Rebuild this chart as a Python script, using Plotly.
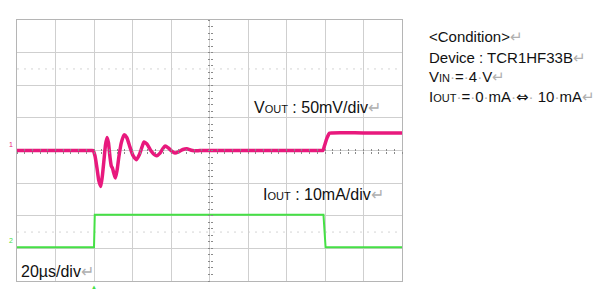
import plotly.graph_objects as go

# ---- data ----
# VOUT (ch1, 50 mV/div), time in microseconds (20 us/div)
time_v = [0, 20, 38.0, 39.5, 40.5, 41.5, 42.5, 43.5, 44.3, 45.2, 46.0, 46.8, 47.5, 48.3,
          49.0, 49.6, 50.3, 51.1, 52.0, 53.0, 54.2, 55.6, 57.0, 58.6, 60.3, 62.0,
          63.6, 65.0, 66.0, 67.5, 69.5, 71.2, 72.6, 74.3, 75.8, 77.0, 78.6, 80.4,
          82.1, 84.0, 86.2, 88.2, 90.5, 93.0, 95.0, 110, 130, 150, 157.5, 158.9,
          159.8, 161.0, 162.3, 163.5, 180, 200]
vout_mv = [0, 0, 0, 0, -8, -26, -46, -55, -40, -14, 9, 20, 12, -10,
           -24, -27, -35, -42, -30, -8, 12, 24, 20, 6, -8, -14,
           -6, 6, 13, 10, 0, -6, -8, -4, 3, 7, 4, -1,
           -4, -2, 1.5, 2.5, 0.5, -0.5, 0, 0, 0, 0, 0, 0,
           8, 19, 26.5, 27, 27, 27]

# IOUT (ch2, 10 mA/div)
time_i = [0, 40.0, 40.4, 159.2, 160.3, 200]
iout_ma = [0, 0, 10, 10, 0, 0]

PINK = "#e8197d"
GREEN = "#45e045"
GRID = "#cfcfcf"
FONT = "Liberation Sans, Arial, sans-serif"

fig = go.Figure()
fig.add_trace(go.Scatter(x=time_v, y=vout_mv, mode="lines",
                         line=dict(color=PINK, width=3.5, shape="spline", smoothing=0.6),
                         yaxis="y", hoverinfo="skip"))
fig.add_trace(go.Scatter(x=time_i, y=iout_ma, mode="lines",
                         line=dict(color=GREEN, width=2), yaxis="y2", hoverinfo="skip"))
# dummy traces to register the centre tick axes
fig.add_trace(go.Scatter(x=[], y=[], xaxis="x2", yaxis="y", showlegend=False))
fig.add_trace(go.Scatter(x=[], y=[], xaxis="x3", yaxis="y", showlegend=False))
fig.add_trace(go.Scatter(x=[], y=[], xaxis="x", yaxis="y3", showlegend=False))
fig.add_trace(go.Scatter(x=[], y=[], xaxis="x", yaxis="y4", showlegend=False))

center_tick = dict(showgrid=False, zeroline=False, showticklabels=False, showline=False,
                   ticklen=2, tickcolor="#8a8a8a", tickwidth=1)

fig.update_layout(
    width=599, height=290,
    margin=dict(l=17, r=197, t=20, b=9),
    paper_bgcolor="white", plot_bgcolor="white",
    showlegend=False,
    xaxis=dict(range=[0, 200], dtick=20, showgrid=True, gridcolor=GRID, gridwidth=1,
               zeroline=False, showticklabels=False, ticks="",
               showline=True, linecolor="#b5b5b5", linewidth=1, mirror=True),
    yaxis=dict(range=[-200, 200], dtick=50, showgrid=True, gridcolor=GRID, gridwidth=1,
               zeroline=False, showticklabels=False, ticks="",
               showline=True, linecolor="#b5b5b5", linewidth=1, mirror=True),
    yaxis2=dict(range=[-10.33, 69.67], overlaying="y", showgrid=False, zeroline=False,
                showticklabels=False, ticks="", showline=False),
    xaxis2=dict(overlaying="x", anchor="free", position=0.5, range=[0, 10], dtick=0.2,
                ticks="outside", **center_tick),
    xaxis3=dict(overlaying="x", anchor="free", position=0.5, range=[0, 10], dtick=0.2,
                ticks="inside", **center_tick),
    yaxis3=dict(overlaying="y", anchor="free", position=0.5, range=[-4, 4], dtick=0.2,
                ticks="outside", **center_tick),
    yaxis4=dict(overlaying="y", anchor="free", position=0.5, range=[-4, 4], dtick=0.2,
                ticks="inside", **center_tick),
)

# centre dashed lines and dotted reference lines
fig.add_shape(type="line", xref="x", yref="paper", x0=100, x1=100, y0=0, y1=1,
              line=dict(color="#9a9a9a", width=1, dash="2px,2px"), layer="below")
fig.add_shape(type="line", xref="paper", yref="y", x0=0, x1=1, y0=0, y1=0,
              line=dict(color="#8a8a8a", width=1, dash="3px,3px"), layer="below")
for yv in (125, -125):
    fig.add_shape(type="line", xref="paper", yref="y", x0=0, x1=1, y0=yv, y1=yv,
                  line=dict(color="#d4d4d4", width=1, dash="2px,5px"), layer="below")

RET = "<span style='color:#b0b0b0'>↵</span>"
DOT = "<span style='color:#b0b0b0'>·</span>"

def note(text, x, y, size, xref="paper"):
    fig.add_annotation(text=text, x=x, y=y, xref=xref, yref="paper",
                       xanchor="left", yanchor="middle", showarrow=False,
                       font=dict(family=FONT, size=size, color="#111111"))

note("V<span style='font-size:11px'>OUT</span> : 50mV/div" + RET, 0.610, 0.663, 16)
note("I<span style='font-size:11px'>OUT</span> : 10mA/div" + RET, 0.633, 0.330, 16)
note("20µs/div" + RET, 0.004, 0.038, 16)

RX = 1.066
note("&lt;Condition&gt;" + RET, RX, 0.935, 15)
note("Device : TCR1HF33B" + RET, RX, 0.858, 15)
note("V<span style='font-size:11px'>IN</span>" + DOT + "=" + DOT + "4" + DOT + "V" + RET,
     RX, 0.782, 15)
note("I<span style='font-size:11px'>OUT</span>" + DOT + "=" + DOT + "0" + DOT + "mA" + DOT
     + "<span style='font-family:DejaVu Sans'>⇔</span>" + DOT + " 10" + DOT + "mA" + RET,
     RX, 0.705, 15)

# channel markers and trigger marker
fig.add_annotation(text="1", x=-0.004, y=0.522, xref="paper", yref="paper",
                   xanchor="right", yanchor="middle", showarrow=False,
                   font=dict(family=FONT, size=7, color=PINK))
fig.add_annotation(text="2", x=-0.004, y=0.157, xref="paper", yref="paper",
                   xanchor="right", yanchor="middle", showarrow=False,
                   font=dict(family=FONT, size=7, color=GREEN))
fig.add_annotation(text="▲", x=40, y=-0.005, xref="x", yref="paper",
                   xanchor="center", yanchor="top", showarrow=False,
                   font=dict(family=FONT, size=6, color=GREEN))

fig.write_html("out.html")
